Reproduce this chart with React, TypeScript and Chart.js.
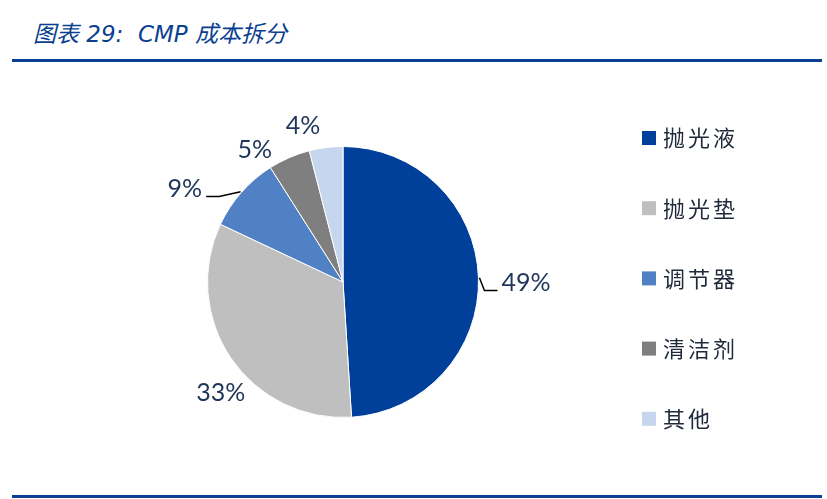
import { useEffect, useRef } from 'react';
import { Chart, registerables } from 'chart.js';

Chart.register(...registerables);

// CMP cost split, percent of total
const categories = ['抛光液', '抛光垫', '调节器', '清洁剂', '其他'];
const shares = [49, 33, 9, 5, 4];

const sliceColors = ['#00409A', '#BFBFBF', '#4F81C4', '#7F7F7F', '#C5D6EE'];
const labelColor = '#1F365A';
// small shifts of the value labels away from their default spot (Excel moved some of them)
const labelNudge = [[11, 6], [16, 17], [-35, 15], [-25, 14], [-20, 1]];
const withLeader = [true, false, true, false, false];

const sliceLabels = {
    id: 'sliceLabels',
    afterDatasetsDraw(chart: any) {
        const ctx = chart.ctx;
        const meta = chart.getDatasetMeta(0);
        ctx.save();
        ctx.font = '25px Lato';
        ctx.textAlign = 'center';
        ctx.textBaseline = 'middle';
        meta.data.forEach((arc: any, i: number) => {
            const { x, y, startAngle, endAngle, outerRadius } = arc.getProps(
                ['x', 'y', 'startAngle', 'endAngle', 'outerRadius'], true);
            const mid = (startAngle + endAngle) / 2;
            const ux = Math.cos(mid);
            const uy = Math.sin(mid);
            const text = shares[i] + '%';
            const w = ctx.measureText(text).width;
            const h = 22;
            const half = Math.min(
                Math.abs(ux) > 1e-6 ? w / 2 / Math.abs(ux) : Infinity,
                Math.abs(uy) > 1e-6 ? h / 2 / Math.abs(uy) : Infinity
            );
            const d = outerRadius + 12 + half;
            const cx = x + ux * d + labelNudge[i][0];
            const cy = y + uy * d + labelNudge[i][1];
            ctx.fillStyle = labelColor;
            ctx.fillText(text, cx, cy);

            if (withLeader[i]) {
                const right = cx > x;
                const endX = right ? cx - w / 2 - 4 : cx + w / 2 + 4;
                const endY = cy + 8;
                const bendX = right ? endX - 13 : endX + 13;
                ctx.beginPath();
                ctx.moveTo(x + ux * (outerRadius + 1), y + uy * (outerRadius + 1));
                ctx.lineTo(bendX, endY);
                ctx.lineTo(endX, endY);
                ctx.strokeStyle = '#000000';
                ctx.lineWidth = 1.5;
                ctx.stroke();
            }
        });
        ctx.restore();
    }
};

const sideLegend = {
    id: 'sideLegend',
    afterDraw(chart: any) {
        const ctx = chart.ctx;
        ctx.save();
        ctx.font = '22px "Noto Sans CJK SC"';
        ctx.letterSpacing = '3px';
        ctx.textAlign = 'left';
        ctx.textBaseline = 'middle';
        categories.forEach((name, i) => {
            const top = 131 + i * 70.2;
            ctx.fillStyle = sliceColors[i];
            ctx.fillRect(642, top, 14, 14);
            ctx.fillStyle = '#202A3A';
            ctx.fillText(name, 663, top + 7);
        });
        ctx.restore();
    }
};

const CostPie = () => {
    const canvas = useRef<HTMLCanvasElement>(null);

    useEffect(() => {
        const chart = new Chart(canvas.current as HTMLCanvasElement, {
            type: 'pie',
            data: {
                labels: categories,
                datasets: [
                    {
                        data: shares,
                        backgroundColor: sliceColors,
                        borderColor: '#ffffff',
                        borderWidth: 1,
                    }
                ]
            },
            options: {
                animation: false,
                responsive: true,
                maintainAspectRatio: false,
                layout: {
                    padding: { left: 207, right: 348, top: 146, bottom: 81 }
                },
                plugins: {
                    legend: { display: false },
                    tooltip: { enabled: false }
                }
            },
            plugins: [sliceLabels, sideLegend]
        });

        return () => {
            chart.destroy();
        };
    }, []);

    return (
        <div style={{ position: 'absolute', left: 0, top: 0, width: 827, height: 499, background: '#ffffff' }}>
            <div style={{
                position: 'absolute', left: 33, top: 15,
                fontFamily: '"DejaVu Sans", "Noto Sans CJK SC", sans-serif',
                fontStyle: 'italic', fontSize: 23, color: '#0B3F91', whiteSpace: 'pre'
            }}>
                图表 29:  CMP 成本拆分
            </div>
            <div style={{ position: 'absolute', left: 12, top: 59, width: 810, height: 3, background: '#0B3F91' }} />
            <div style={{ position: 'absolute', left: 12, top: 495, width: 810, height: 3, background: '#0B3F91' }} />
            <div style={{ position: 'absolute', left: 0, top: 0, width: 827, height: 499 }}>
                <canvas ref={canvas} role="img" aria-label="CMP 成本拆分"></canvas>
            </div>
        </div>
    );
};

export default function App() {
    return <CostPie />;
}
